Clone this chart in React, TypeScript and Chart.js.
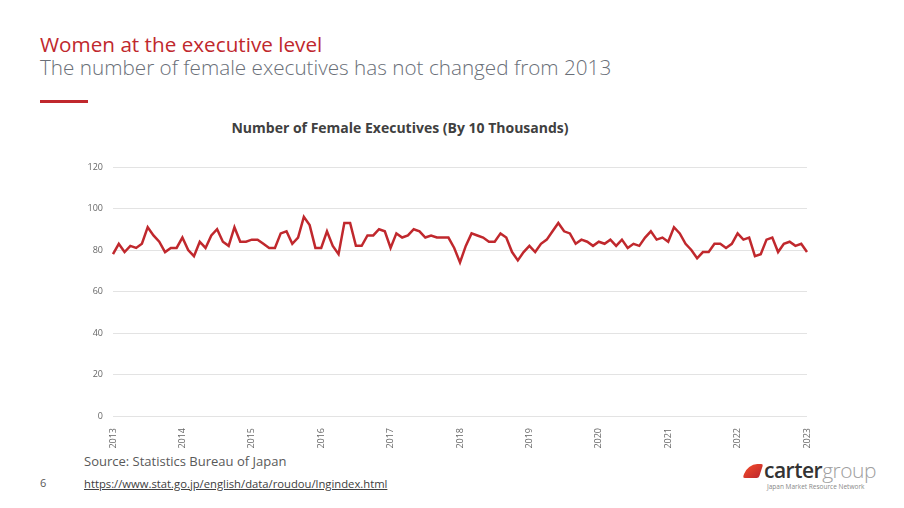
import React, { useEffect, useRef } from "react";
import { Chart, registerables } from "chart.js";

Chart.register(...registerables);

// Tick labels (years)
const years = ["2013", "2014", "2015", "2016", "2017", "2018", "2019", "2020", "2021", "2022", "2023"];
const monthNames = ["01", "02", "03", "04", "05", "06", "07", "08", "09", "10", "11", "12"];

// Female executives (10,000 persons), monthly
const v2013 = [78, 83, 79, 82, 81, 83, 91, 87, 84, 79, 81, 81];
const v2014 = [86, 80, 77, 84, 81, 87, 90, 84, 82, 91, 84, 84];
const v2015 = [85, 85, 83, 81, 81, 88, 89, 83, 86, 96, 92, 81];
const v2016 = [81, 89, 82, 78, 93, 93, 82, 82, 87, 87, 90, 89];
const v2017 = [81, 88, 86, 87, 90, 89, 86, 87, 86, 86, 86, 81];
const v2018 = [74, 82, 88, 87, 86, 84, 84, 88, 86, 79, 75, 79];
const v2019 = [82, 79, 83, 85, 89, 93, 89, 88, 83, 85, 84, 82];
const v2020 = [84, 83, 85, 82, 85, 81, 83, 82, 86, 89, 85, 86];
const v2021 = [84, 91, 88, 83, 80, 76, 79, 79, 83, 83, 81, 83];
const v2022 = [88, 85, 86, 77, 78, 85, 86, 79, 83, 84, 82, 83];
const v2023 = [79];

const yearSeries = [v2013, v2014, v2015, v2016, v2017, v2018, v2019, v2020, v2021, v2022, v2023];

const categories: string[] = [];
const values: number[] = [];
yearSeries.forEach((arr, yi) => {
  arr.forEach((v, mi) => {
    categories.push(`${years[yi]}-${monthNames[mi]}`);
    values.push(v);
  });
});

const RED = "#c0282d";
const FONT = "'Open Sans', 'Noto Sans', sans-serif";

function LineChart() {
  const ref = useRef<HTMLCanvasElement | null>(null);
  useEffect(() => {
    if (!ref.current) return;
    const chart = new Chart(ref.current, {
      type: "line",
      data: {
        labels: categories,
        datasets: [
          {
            label: "Number of Female Executives",
            data: values,
            borderColor: RED,
            backgroundColor: RED,
            borderWidth: 2.5,
            pointRadius: 0,
            tension: 0,
          },
        ],
      },
      options: {
        animation: false,
        responsive: false,
        maintainAspectRatio: false,
        layout: { padding: { left: 0, right: 23, top: 17, bottom: 0 } },
        plugins: {
          legend: { display: false },
          title: { display: false },
          tooltip: { enabled: false },
        },
        scales: {
          x: {
            grid: { display: false },
            border: { display: false },
            afterFit: (s: any) => {
              s.height = 34;
            },
            ticks: {
              autoSkip: false,
              maxRotation: 90,
              minRotation: 90,
              padding: 4,
              color: "#666",
              font: { family: FONT, size: 9 },
              callback: (_v: any, i: number) => (i % 12 === 0 ? categories[i].slice(0, 4) : ""),
            },
          },
          y: {
            min: 0,
            max: 120,
            afterFit: (s: any) => {
              s.width = 43;
            },
            ticks: {
              stepSize: 20,
              padding: 10,
              color: "#666",
              font: { family: FONT, size: 9 },
            },
            grid: { color: "#e3e3e3", lineWidth: 1, drawTicks: false },
            border: { display: false },
          },
        },
      },
    });
    return () => chart.destroy();
  }, []);
  return <canvas ref={ref} width={760} height={300} style={{ position: "absolute", left: 70, top: 150, width: 760, height: 300 }} />;
}

export default function App() {
  return (
    <div
      style={{
        position: "absolute",
        left: 0,
        top: 0,
        width: 904,
        height: 508,
        background: "#ffffff",
        overflow: "hidden",
        fontFamily: FONT,
      }}
    >
      <div style={{ position: "absolute", left: 40, top: 32, fontSize: 20.7, color: RED, lineHeight: "24px", whiteSpace: "nowrap" }}>
        Women at the executive level
      </div>
      <div style={{ position: "absolute", left: 40, top: 55, fontSize: 20.7, fontWeight: 300, color: "#6a6f78", lineHeight: "24px", whiteSpace: "nowrap" }}>
        The number of female executives has not changed from 2013
      </div>
      <div style={{ position: "absolute", left: 40, top: 100, width: 48, height: 3, background: RED }} />
      <div
        style={{
          position: "absolute",
          left: 0,
          width: 800,
          top: 118,
          textAlign: "center",
          fontSize: 14,
          fontWeight: 700,
          color: "#404040",
          lineHeight: "20px",
        }}
      >
        Number of Female Executives (By 10 Thousands)
      </div>
      <LineChart />
      <div style={{ position: "absolute", left: 84, top: 452, fontSize: 13, color: "#595959", lineHeight: "18px", whiteSpace: "nowrap" }}>
        Source: Statistics Bureau of Japan
      </div>
      <div
        style={{
          position: "absolute",
          left: 84,
          top: 476,
          fontSize: 11.25,
          color: "#404040",
          textDecoration: "underline",
          lineHeight: "16px",
          whiteSpace: "nowrap",
        }}
      >
        https://www.stat.go.jp/english/data/roudou/lngindex.html
      </div>
      <div style={{ position: "absolute", left: 40, top: 475, fontSize: 11, color: "#595959", lineHeight: "16px" }}>6</div>
      {/* logo */}
      <div style={{ position: "absolute", left: 742, top: 463, width: 20, height: 15 }}>
        <div
          style={{
            position: "absolute",
            left: 3,
            top: 1,
            width: 16,
            height: 14,
            background: "linear-gradient(135deg, #f04a2a, #c0282d)",
            borderRadius: "10px 2px 2px 2px",
            transform: "skewX(-18deg)",
          }}
        />
      </div>
      <div style={{ position: "absolute", left: 764, top: 457, fontSize: 21, lineHeight: "26px", whiteSpace: "nowrap", letterSpacing: -0.5 }}>
        <span style={{ color: "#333", fontWeight: 600 }}>carter</span>
        <span style={{ color: "#a0a0a0", fontWeight: 300 }}>group</span>
      </div>
      <div style={{ position: "absolute", left: 767, top: 483, fontSize: 6.5, color: "#888", lineHeight: "8px", whiteSpace: "nowrap" }}>
        Japan Market Resource Network
      </div>
    </div>
  );
}
